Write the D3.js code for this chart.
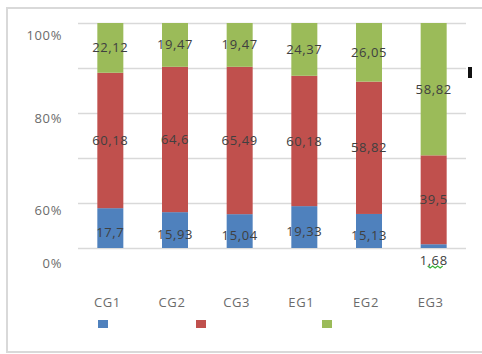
<!DOCTYPE html>
<html><head><meta charset="utf-8">
<script src="https://cdn.jsdelivr.net/npm/d3@7"></script>
<style>body{margin:0;background:#fff}svg{display:block}</style>
</head><body>
<script>
const categories = ["CG1","CG2","CG3","EG1","EG2","EG3"];
const seriesBlue  = [17.7, 15.93, 15.04, 19.33, 15.13, 1.68];
const seriesRed   = [60.18, 64.6, 65.49, 60.18, 58.82, 39.5];
const seriesGreen = [22.12, 19.47, 19.47, 24.37, 26.05, 58.82];
const blueLabels  = ["17,7","15,93","15,04","19,33","15,13","1,68"];
const redLabels   = ["60,18","64,6","65,49","60,18","58,82","39,5"];
const greenLabels = ["22,12","19,47","19,47","24,37","26,05","58,82"];
const yTickLabels = ["100%","80%","60%","0%"];
const gridValues = [0,20,40,60,80,100];

const W=482,H=354;
const svg=d3.select("body").append("svg").attr("width",W).attr("height",H);
const font="'Open Sans', sans-serif";

// outer chart border
svg.append("rect").attr("x",7).attr("y",8).attr("width",W).attr("height",344)
  .attr("fill","none").attr("stroke","#d9d9d9").attr("stroke-width",2);

const x=d3.scaleBand().domain(categories).range([78,466]).paddingInner(0.6).paddingOuter(0.3);
const y=d3.scaleLinear().domain([0,1]).range([248,23]);

// gridlines via axis
const gridAxis=d3.axisLeft(y).tickValues(gridValues.map(v=>v/100)).tickSize(-(466-78)).tickFormat("");
const gg=svg.append("g").attr("transform","translate(78,0)").call(gridAxis);
gg.select(".domain").remove();
gg.selectAll("line").attr("stroke","#d9d9d9").attr("stroke-width",1.3);

// y labels (misplaced as in original)
const labelY=[35,118,210,263];
svg.selectAll(".ylab").data(yTickLabels).join("text")
  .attr("x",62).attr("y",(d,i)=>labelY[i]).attr("dy","0.35em")
  .attr("text-anchor","end").attr("font-family",font).attr("font-size",13)
  .attr("letter-spacing",0.6).attr("fill","#6b6b6b").text(d=>d);

const rows=categories.map((c,i)=>({cat:c,blue:seriesBlue[i],red:seriesRed[i],green:seriesGreen[i]}));
const keys=["blue","red","green"];
const colors={blue:"#4f81bd",red:"#c0504d",green:"#9bbb59"};
const labels={blue:blueLabels,red:redLabels,green:greenLabels};
const stack=d3.stack().keys(keys).offset(d3.stackOffsetExpand)(rows);

const bw=26;
stack.forEach(s=>{
  const g=svg.append("g");
  g.selectAll("rect").data(s).join("rect")
    .attr("x",d=>x(d.data.cat)+x.bandwidth()/2-bw/2).attr("width",bw)
    .attr("y",d=>y(d[1])).attr("height",d=>y(d[0])-y(d[1]))
    .attr("fill",colors[s.key]);
});
stack.forEach(s=>{
  svg.append("g").selectAll("text").data(s).join("text")
    .attr("x",d=>x(d.data.cat)+x.bandwidth()/2)
    .attr("y",(d,i)=>{
      const h=y(d[0])-y(d[1]);
      if(h<10) return y(d[0])+12;
      return (y(d[0])+y(d[1]))/2 + (s.key==="blue"?4:0);
    })
    .attr("dy","0.35em").attr("text-anchor","middle")
    .attr("font-family",font).attr("font-size",13).attr("letter-spacing",0.6)
    .attr("fill","#404040")
    .text((d,i)=>labels[s.key][i]);
});

// squiggle under 1,68
const ex=x("EG3")+x.bandwidth()/2;
const sq=d3.range(0,7).map(k=>[ex-6+k*2.5, 266+(k%2?2:0)]);
svg.append("path").attr("d",d3.line()(sq)).attr("fill","none").attr("stroke","#3cb43c").attr("stroke-width",1.2);

// category labels
svg.selectAll(".xlab").data(categories).join("text")
  .attr("x",d=>x(d)+x.bandwidth()/2-3).attr("y",302).attr("dy","0.35em")
  .attr("text-anchor","middle").attr("font-family",font).attr("font-size",13)
  .attr("letter-spacing",0.6).attr("fill","#6b6b6b").text(d=>d);

// legend squares
const legX=[103,201,327];
svg.selectAll(".leg").data(keys).join("rect")
  .attr("x",(d,i)=>legX[i]-5).attr("y",320).attr("width",10).attr("height",8)
  .attr("fill",d=>colors[d]);

// small black mark
svg.append("rect").attr("x",468).attr("y",67).attr("width",4).attr("height",11).attr("fill","#111");
</script>
</body></html>
